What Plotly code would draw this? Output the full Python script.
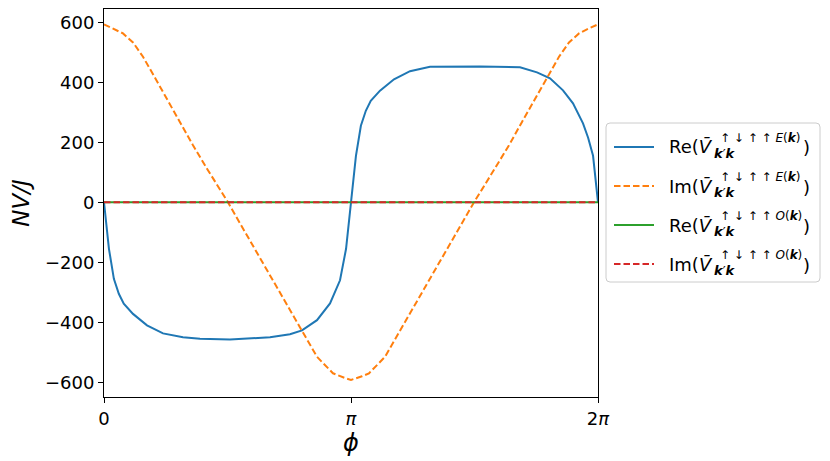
import plotly.graph_objects as go

# phi in units of pi
phi_re = [0.0, 0.02, 0.04, 0.06, 0.08, 0.1174, 0.1741, 0.2389, 0.3198, 0.3887,
          0.5101, 0.6721, 0.7530, 0.8016, 0.8623, 0.9150, 0.9555, 0.98, 1.0,
          1.02, 1.04, 1.06, 1.08, 1.1174, 1.1741, 1.2389, 1.3198, 1.5223, 1.6842,
          1.7530, 1.8057, 1.8583, 1.8988, 1.9393, 1.96, 1.98, 2.0]
re_even = [0, -155, -255, -305, -338, -372, -410, -437, -450, -455,
           -457, -450, -440, -427, -393, -337, -260, -155, 0,
           155, 255, 305, 338, 372, 410, 437, 452, 453, 450,
           433, 413, 373, 330, 263, 215, 155, 0]

phi_im = [0.0, 0.0243, 0.0486, 0.0769, 0.1174, 0.1579, 0.2065, 0.2551, 0.3077, 0.3603,
          0.4170, 0.4696, 0.5020, 0.5506, 0.6316, 0.7126, 0.8016, 0.8623, 0.9271,
          0.9555, 0.98, 1.0,
          1.02, 1.0445, 1.0729, 1.1377, 1.1984, 1.2874, 1.3684, 1.4494, 1.4980,
          1.5304, 1.5830, 1.6397, 1.6923, 1.7449, 1.7935, 1.8421, 1.8826, 1.9231,
          1.9514, 1.9757, 2.0]
im_even = [593, 583, 575, 563, 533, 485, 415, 343, 268, 190,
           112, 43, 0, -70, -185, -300, -428, -515, -570,
           -580, -587, -592,
           -587, -580, -570, -515, -428, -300, -185, -70, 0,
           43, 112, 190, 268, 343, 415, 485, 533, 563,
           575, 583, 593]

phi_zero = [0.0, 2.0]
re_odd = [0, 0]
im_odd = [0, 0]

y_ticks = [-600, -400, -200, 0, 200, 400, 600]
y_ticktext = ["\u2212600", "\u2212400", "\u2212200", "0", "200", "400", "600"]
x_ticks = [0, 1, 2]
x_ticktext = ["0", "<i>\u03c0</i>", "2<i>\u03c0</i>"]

legend_parts = ["Re", "Im", "Re", "Im"]
legend_parity = ["E", "E", "O", "O"]
colors = ["#1f77b4", "#ff7f0e", "#2ca02c", "#d62728"]
dashes = ["solid", "6.5px,3px", "solid", "6.5px,3px"]

fig = go.Figure()
xs = [phi_re, phi_im, phi_zero, phi_zero]
ys = [re_even, im_even, re_odd, im_odd]
for i in range(4):
    name = f"{legend_parts[i]}(V\u0304_k'k^\u2191\u2193\u2191\u2191{legend_parity[i]}(k))"
    fig.add_trace(go.Scatter(x=xs[i], y=ys[i], mode="lines", name=name, showlegend=False,
                             line=dict(color=colors[i], width=2, dash=dashes[i])))

# ---- manual legend (pixel geometry of plot area in the page: left 104, width 494, bottom 397, top 9)
PL, PW, PB, PH = 104, 494, 397, 388
def px(x):
    return (x - PL) / PW
def py(y):
    return (PB - y) / PH

bx0, bx1, by0, by1 = px(606), px(820), py(282), py(123)
rx, ry = 4 / PW, 4 / PH
path = (f"M {bx0+rx},{by1} L {bx1-rx},{by1} Q {bx1},{by1} {bx1},{by1-ry} "
        f"L {bx1},{by0+ry} Q {bx1},{by0} {bx1-rx},{by0} L {bx0+rx},{by0} "
        f"Q {bx0},{by0} {bx0},{by0+ry} L {bx0},{by1-ry} Q {bx0},{by1} {bx0+rx},{by1} Z")
fig.add_shape(type="path", path=path, xref="paper", yref="paper",
              line=dict(color="#cccccc", width=1), fillcolor="rgba(255,255,255,0.8)")

FONT = "DejaVu Sans"
for i in range(4):
    cy = 147 + 39 * i
    fig.add_shape(type="line", xref="paper", yref="paper",
                  x0=px(614), x1=px(654), y0=py(cy), y1=py(cy),
                  line=dict(color=colors[i], width=2, dash=dashes[i]))
    fig.add_annotation(xref="paper", yref="paper", x=px(667), y=py(cy), xanchor="left",
                       yanchor="middle", showarrow=False,
                       text=f"{legend_parts[i]}(<i>V\u0304</i>",
                       font=dict(family=FONT, size=18, color="black"))
    fig.add_annotation(xref="paper", yref="paper", x=px(712), y=py(cy + 6), xanchor="left",
                       yanchor="middle", showarrow=False,
                       text="<b><i>k</i></b>\u2032<b><i>k</i></b>",
                       font=dict(family=FONT, size=13, color="black"))
    fig.add_annotation(xref="paper", yref="paper", x=px(718), y=py(cy - 9), xanchor="left",
                       yanchor="middle", showarrow=False,
                       text=f"\u2191 \u2193 \u2191 \u2191 <i>{legend_parity[i]}</i>(<b><i>k</i></b>)",
                       font=dict(family=FONT, size=12, color="black"))
    fig.add_annotation(xref="paper", yref="paper", x=px(801), y=py(cy + 1), xanchor="left",
                       yanchor="middle", showarrow=False, text=")",
                       font=dict(family=FONT, size=18, color="black"))

axis_common = dict(showline=True, linecolor="black", linewidth=1, mirror=True,
                   ticks="outside", ticklen=5, tickcolor="black", showgrid=False,
                   zeroline=False, tickfont=dict(family=FONT, size=18, color="black"))
fig.update_xaxes(range=[0, 2], tickvals=x_ticks, ticktext=x_ticktext,
                 title=dict(text="<i>\u03d5</i>", font=dict(family=FONT, size=24, color="black"),
                            standoff=4),
                 **axis_common)
fig.update_yaxes(range=[-649, 644.3], tickvals=y_ticks, ticktext=y_ticktext,
                 title=dict(text="<i>NV/J</i>", font=dict(family=FONT, size=23, color="black"),
                            standoff=10),
                 **axis_common)
fig.update_layout(
    width=822, height=453,
    margin=dict(l=96, r=232, t=1, b=64),
    plot_bgcolor="white", paper_bgcolor="white",
    font=dict(family=FONT, color="black"),
    showlegend=False,
)
fig.write_html("out.html")
